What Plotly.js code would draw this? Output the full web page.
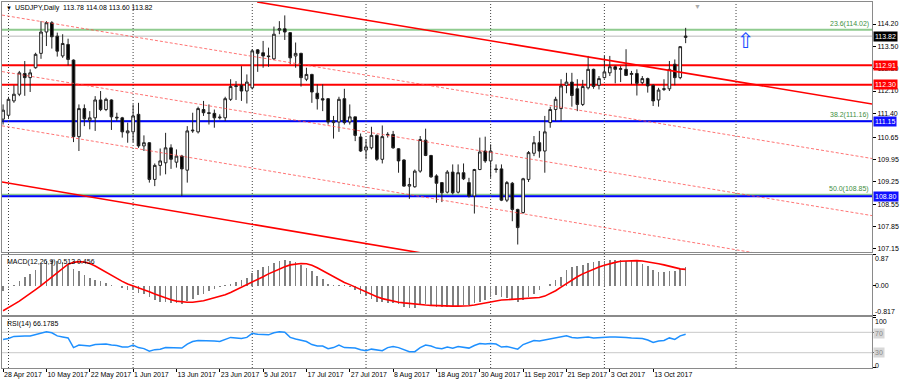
<!DOCTYPE html>
<html><head><meta charset="utf-8">
<script src="https://cdn.plot.ly/plotly-3.0.1.min.js"></script>
<style>html,body{margin:0;padding:0;background:#fff}#chart{width:900px;height:382px}</style>
</head><body><div id="chart"></div>
<script>
// ---- Daily OHLC, 28 Apr 2017 .. 23 Oct 2017 (bar index 0..126) ----
const openP = [111.22,111.34,111.79,112.00,112.65,112.52,112.83,113.28,113.95,114.24,
113.82,113.20,113.56,113.07,110.67,111.55,111.18,111.26,111.82,111.52,
111.82,111.28,111.26,110.79,110.82,111.37,110.38,110.48,109.33,109.77,
109.85,110.32,109.87,110.06,109.62,110.85,110.82,111.52,111.42,111.40,
111.26,111.26,111.84,112.24,112.28,112.10,112.20,113.39,113.30,113.20,
113.11,114.01,114.05,113.93,113.20,113.28,112.47,112.62,112.03,111.86,
111.86,111.11,111.13,111.86,111.13,111.29,110.66,110.25,110.32,110.71,
109.96,110.72,110.74,110.29,109.94,109.12,109.10,109.59,110.56,110.08,
109.44,109.23,108.93,109.56,108.93,109.54,109.23,108.81,109.64,110.22,
109.91,109.66,109.66,108.68,109.21,108.39,108.29,109.33,110.15,110.48,
110.22,111.11,111.52,111.55,112.28,112.38,112.17,111.68,112.20,112.78,
112.28,112.52,112.67,112.86,112.78,112.78,112.62,112.65,112.36,112.49,
112.28,111.82,112.15,112.17,112.94,112.52,113.78];
const highP = [111.68,111.92,112.28,112.73,113.04,112.78,113.30,114.29,114.29,114.29,
113.93,113.88,113.74,113.09,111.68,111.68,111.47,111.94,112.10,111.89,
111.84,111.42,111.29,111.11,111.68,111.73,110.71,110.50,109.83,110.30,
110.79,110.43,110.27,110.10,111.00,111.42,111.61,111.79,111.68,111.52,
111.37,111.92,112.47,112.41,112.88,112.62,113.41,113.41,113.67,113.46,
114.12,114.29,114.47,113.95,113.62,113.30,112.83,112.64,112.31,112.31,
111.88,111.32,111.92,112.17,111.68,111.29,110.77,110.58,110.98,110.74,
111.02,110.81,110.85,110.31,109.96,109.38,109.64,110.69,110.92,110.10,
109.49,109.25,109.62,109.80,109.80,109.83,109.38,109.66,110.64,110.67,
110.43,109.80,109.80,109.28,109.25,108.41,109.38,110.22,110.69,110.85,
111.32,111.61,111.92,112.47,112.67,112.67,112.47,112.45,113.20,112.80,
112.57,113.20,113.20,112.90,112.88,113.41,112.73,112.78,112.57,112.52,
112.31,112.20,112.47,113.04,113.09,113.51,114.08];
const lowP = [111.05,111.26,111.73,111.94,111.95,112.07,112.80,113.11,113.51,113.43,
113.18,113.14,112.90,110.50,110.22,111.00,110.90,110.85,111.47,111.47,
110.88,111.16,110.64,110.48,110.50,110.32,110.22,109.23,109.12,109.45,
109.49,109.66,109.70,108.81,109.23,110.79,110.77,111.32,111.05,110.95,
111.21,111.16,111.79,111.82,111.79,111.71,112.15,112.70,112.83,112.86,
113.07,113.88,113.70,112.94,112.83,112.24,112.41,111.73,111.52,111.47,
111.05,110.61,110.82,111.05,111.05,110.53,110.19,109.96,110.27,109.91,
109.83,110.64,110.29,109.54,109.10,108.72,109.07,109.54,110.06,109.38,
108.60,108.62,108.89,108.86,108.89,109.31,108.76,108.26,109.62,109.85,
109.38,109.54,108.65,108.62,108.02,107.29,108.26,109.25,110.06,110.01,
109.54,110.95,111.16,111.16,112.03,111.61,111.47,111.63,112.15,112.17,
112.15,112.49,112.57,112.34,112.38,112.57,112.31,111.96,112.31,112.05,
111.63,111.61,112.10,112.10,112.28,112.47,113.60];
const closeP = [111.50,111.84,112.00,112.67,112.52,112.67,113.25,113.95,114.24,113.80,
113.35,113.59,113.09,110.67,111.55,111.23,111.26,111.82,111.52,111.84,
111.29,111.26,110.82,110.85,111.32,110.38,110.48,109.33,109.77,109.91,
110.32,109.96,110.06,109.66,110.85,110.87,111.55,111.42,111.40,111.26,
111.28,111.86,112.24,112.26,112.10,112.38,113.36,113.28,113.20,113.18,
113.88,114.05,113.95,113.14,113.28,112.52,112.62,112.07,111.86,111.82,
111.13,111.16,111.84,111.11,111.29,110.71,110.22,110.35,110.71,109.96,
110.67,110.74,110.32,109.91,109.12,109.17,109.59,110.58,110.08,109.41,
109.21,108.91,109.56,108.91,109.54,109.35,108.81,109.64,110.19,109.91,
110.22,109.64,108.68,109.23,108.39,107.82,109.35,110.17,110.48,110.22,
110.82,111.52,111.84,112.26,112.38,111.96,111.68,112.24,112.78,112.24,
112.49,112.70,112.86,112.78,112.80,112.59,112.65,112.34,112.49,112.26,
111.79,112.13,112.17,112.78,112.52,113.49,113.82];

// ---- MACD(12,26,9): histogram (main) and signal ----
const macdMain = [-0.16,-0.06,0.01,0.13,0.24,0.33,0.45,0.60,0.70,0.72,
0.70,0.66,0.60,0.47,0.40,0.30,0.22,0.17,0.13,0.08,
0.03,-0.01,-0.07,-0.11,-0.13,-0.19,-0.23,-0.32,-0.40,-0.45,
-0.46,-0.48,-0.49,-0.50,-0.44,-0.36,-0.27,-0.22,-0.16,-0.10,
-0.05,0.01,0.06,0.11,0.16,0.22,0.36,0.45,0.51,0.55,
0.63,0.70,0.72,0.68,0.66,0.58,0.50,0.40,0.28,0.18,
0.06,0.03,0.02,0.01,-0.03,-0.12,-0.22,-0.30,-0.37,-0.45,
-0.46,-0.47,-0.49,-0.52,-0.58,-0.62,-0.63,-0.55,-0.52,-0.55,
-0.58,-0.60,-0.58,-0.57,-0.57,-0.54,-0.54,-0.49,-0.45,-0.40,
-0.31,-0.26,-0.31,-0.35,-0.40,-0.45,-0.40,-0.31,-0.22,-0.12,
-0.01,0.06,0.15,0.24,0.43,0.52,0.54,0.57,0.63,0.66,
0.68,0.69,0.72,0.72,0.72,0.70,0.69,0.69,0.61,0.54,
0.45,0.38,0.38,0.41,0.41,0.47,0.513];
const macdSignal = [-0.70,-0.62,-0.52,-0.43,-0.33,-0.22,-0.11,0.00,0.12,0.25,
0.38,0.50,0.60,0.65,0.67,0.66,0.62,0.55,0.46,0.37,
0.28,0.20,0.12,0.05,0.00,-0.05,-0.11,-0.17,-0.23,-0.29,
-0.34,-0.39,-0.43,-0.45,-0.46,-0.46,-0.45,-0.42,-0.38,-0.34,
-0.30,-0.25,-0.19,-0.12,-0.05,0.03,0.10,0.17,0.25,0.33,
0.40,0.47,0.53,0.58,0.61,0.62,0.61,0.57,0.50,0.42,
0.33,0.24,0.16,0.09,0.03,-0.04,-0.11,-0.18,-0.25,-0.31,
-0.36,-0.40,-0.43,-0.46,-0.48,-0.50,-0.52,-0.53,-0.54,-0.55,
-0.56,-0.57,-0.57,-0.57,-0.57,-0.57,-0.56,-0.54,-0.51,-0.48,
-0.45,-0.42,-0.40,-0.39,-0.38,-0.37,-0.36,-0.35,-0.35,-0.33,
-0.29,-0.22,-0.14,-0.04,0.06,0.16,0.25,0.33,0.40,0.46,
0.52,0.57,0.62,0.65,0.68,0.69,0.70,0.70,0.69,0.67,
0.64,0.61,0.58,0.54,0.50,0.47,0.456];

// ---- RSI(14) ----
const rsi = [56,58,62,63,63,63,66,69,71,69,
63,61,59,40,45,44,43,46,46,47,
45,44,41,41,45,40,38,33,36,37,
40,40,39,39,47,52,54,54,53,53,
52,56,60,59,58,60,68,66,65,65,
69,71,70,60,57,54,52,46,43,43,
38,40,45,40,39,39,36,34,37,36,
34,40,42,40,36,32,32,40,45,43,
39,38,41,39,42,41,39,44,48,47,
48,47,41,42,40,37,46,50,54,53,
55,58,59,61,63,60,59,60,61,59,
60,61,61,61,61,60,59,58,58,55,
50,53,54,59,56,63,66.18];

// ---- axis labels ----
const dateLabels = ['28 Apr 2017','10 May 2017','22 May 2017','1 Jun 2017','13 Jun 2017','23 Jun 2017','5 Jul 2017','17 Jul 2017','27 Jul 2017','8 Aug 2017','18 Aug 2017','30 Aug 2017','11 Sep 2017','21 Sep 2017','3 Oct 2017','13 Oct 2017'];
const dateLabelBars = [0,8,16,24,32,40,48,56,64,72,80,88,96,104,112,120];
const priceTicks = [114.20,113.50,112.80,112.10,111.40,110.65,109.95,109.25,108.55,107.85,107.15];
const monthSeparatorBars = [1,24,46,67,90,111,135.3];

// ---- drawn objects (bar index, price) ----
const trendUpperBars = [46.9,160.5], trendUpperPrices = [114.89,111.69];
const trendLowerBars = [-0.2,100], trendLowerPrices = [109.25,106.37];
const chanABars = [-0.2,160.6], chanAPrices = [114.48,109.98];
const chanBBars = [-0.2,160.6], chanBPrices = [112.71,108.19];
const chanCBars = [-0.2,160.6], chanCPrices = [111.01,106.40];
const fibNames = ['23.6','38.2','50.0'];
const fibPrices = [114.02,111.16,108.85];
const redLevels = [112.91,112.30];
const blueLevels = [111.15,108.80];
const bidPrice = 113.82;
const arrowMark = [137.2,113.67];
const macdTicks = [0.87,0.00,-0.817];
const rsiTicks = [100,70,30,0];

const idx = openP.map((_,i)=>i);
const FONT = 'Liberation Sans, Arial, sans-serif';

const traces = [];
const lineTr = (xs,ys,color,w,dash)=>({type:'scatter',mode:'lines',x:xs,y:ys,xaxis:'x',yaxis:'y',
  line:{color:color,width:w,dash:dash||'solid'},hoverinfo:'skip'});
traces.push(lineTr(chanABars,chanAPrices,'rgba(255,70,70,0.75)',1,'3px,2px'));
traces.push(lineTr(chanBBars,chanBPrices,'rgba(255,70,70,0.75)',1,'3px,2px'));
traces.push(lineTr(chanCBars,chanCPrices,'rgba(255,70,70,0.75)',1,'3px,2px'));
traces.push(lineTr(trendUpperBars,trendUpperPrices,'#ff0000',1.6));
traces.push(lineTr(trendLowerBars,trendLowerPrices,'#ff0000',1.6));
traces.push({type:'candlestick',x:idx,open:openP,high:highP,low:lowP,close:closeP,xaxis:'x',yaxis:'y',
  increasing:{line:{color:'#222',width:1},fillcolor:'#ffffff'},
  decreasing:{line:{color:'#222',width:1},fillcolor:'#000000'},
  whiskerwidth:0,hoverinfo:'skip'});
traces.push({type:'bar',x:idx,y:macdMain,xaxis:'x2',yaxis:'y2',width:0.3,
  marker:{color:'#808080',line:{width:0}},hoverinfo:'skip'});
traces.push({type:'scatter',mode:'lines',x:idx,y:macdSignal,xaxis:'x2',yaxis:'y2',
  line:{color:'#ff0000',width:1.6},hoverinfo:'skip'});
traces.push({type:'scatter',mode:'lines',x:idx,y:rsi,xaxis:'x3',yaxis:'y3',
  line:{color:'#1e90ff',width:1.5},hoverinfo:'skip'});

const shapes = [];
const hline = (y,color,w,yref)=>({type:'line',xref:'paper',x0:0,x1:1,yref:yref||'y',y0:y,y1:y,
  line:{color:color,width:w},layer:'below'});
fibPrices.forEach(p=>shapes.push(hline(p,'#8fcb8f',2)));
shapes.push(hline(bidPrice,'#d0d0d0',1.5));
redLevels.forEach(p=>shapes.push(hline(p,'#ff0000',2)));
blueLevels.forEach(p=>shapes.push(hline(p,'#0000ff',2)));
[70,30].forEach(v=>shapes.push(hline(v,'#c8c8c8',1,'y3')));
monthSeparatorBars.forEach(b=>shapes.push({type:'line',xref:'x',x0:b,x1:b,yref:'paper',y0:0,y1:1,
  line:{color:'#404040',width:1,dash:'1px,2px'},layer:'below'}));

const ann = [];
ann.push({xref:'paper',yref:'paper',x:0.002,y:1,xanchor:'left',yanchor:'top',yshift:-1,showarrow:false,
  text:'▼',font:{size:6,color:'#000'}});
ann.push({xref:'paper',yref:'paper',x:0.0125,y:1,xanchor:'left',yanchor:'top',yshift:0,showarrow:false,
  text:'USDJPY,Daily  113.78 114.08 113.60 113.82',font:{size:7,color:'#000'}});
ann.push({xref:'paper',yref:'paper',x:0.799,y:1,xanchor:'center',yanchor:'top',yshift:1,showarrow:false,
  text:'▼',font:{size:7,color:'#aaaaaa'}});
fibPrices.forEach((p,i)=>ann.push({xref:'paper',yref:'y',x:1,y:p,xanchor:'right',yanchor:'bottom',xshift:-1,
  showarrow:false,text:fibNames[i]+'('+p.toFixed(2)+')',font:{size:7,color:'#3f8f3f'}}));
const boxAnn = (y,txt,bg,fg,yref,yshift)=>({xref:'paper',yref:yref||'y',x:1,y:y,xanchor:'left',yanchor:'middle',
  xshift:1,yshift:yshift||0,showarrow:false,text:txt,bgcolor:bg,borderpad:1,font:{size:7,color:fg}});
ann.push(boxAnn(bidPrice,bidPrice.toFixed(2),'#000000','#ffffff'));
redLevels.forEach(p=>ann.push(boxAnn(p,p.toFixed(2),'#ff0000','#ffffff')));
blueLevels.forEach(p=>ann.push(boxAnn(p,p.toFixed(2),'#1010ff','#ffffff')));
ann.push({xref:'x',yref:'y',x:arrowMark[0],y:arrowMark[1],showarrow:false,text:'⇧',
  font:{size:21,color:'#1a4dff',family:'DejaVu Sans'}});
// indicator labels
ann.push({xref:'x domain',yref:'y2 domain',x:0.004,y:1,xanchor:'left',yanchor:'top',yshift:-1,showarrow:false,
  text:'MACD(12,26,9) 0.513 0.456',font:{size:7,color:'#000'}});
ann.push({xref:'x domain',yref:'y3 domain',x:0.004,y:1,xanchor:'left',yanchor:'top',yshift:-1,showarrow:false,
  text:'RSI(14) 66.1785',font:{size:7,color:'#000'}});
const macdShift = [-4,0,4];
macdTicks.forEach((v,i)=>ann.push(boxAnn(v,i===0?'0.87':(i===1?'0.00':'-0.817'),'rgba(0,0,0,0)','#000','y2',macdShift[i])));
const rsiShift = [-4,-1,0,2];
rsiTicks.forEach((v,i)=>ann.push(boxAnn(v,String(v),(v===70||v===30)?'#d8d8d8':'rgba(0,0,0,0)',(v===70||v===30)?'#888':'#000','y3',rsiShift[i])));

const frame = {showgrid:false,zeroline:false,showline:true,mirror:true,linecolor:'#8a8a8a',linewidth:1,fixedrange:true};
const layout = {
  width:900,height:382,margin:{l:2,r:28,t:2,b:14},
  paper_bgcolor:'#ffffff',plot_bgcolor:'#ffffff',showlegend:false,
  font:{family:FONT,size:7,color:'#000'},
  xaxis:Object.assign({},frame,{anchor:'y',range:[-0.2,160.4],ticks:'',showticklabels:false,rangeslider:{visible:false}}),
  xaxis2:Object.assign({},frame,{anchor:'y2',matches:'x',ticks:'',showticklabels:false}),
  xaxis3:Object.assign({},frame,{anchor:'y3',matches:'x',tickmode:'array',tickvals:dateLabelBars,ticktext:dateLabels,
    ticks:'outside',ticklen:3,tickcolor:'#000',tickangle:0,ticklabelposition:'outside right',
    tickfont:{size:7,color:'#000'}}),
  yaxis:Object.assign({},frame,{domain:[0.3156,1],range:[107.04,114.89],side:'right',anchor:'x',tickmode:'array',
    tickvals:priceTicks,ticktext:priceTicks.map(v=>v.toFixed(2)),ticks:'outside',ticklen:3,tickcolor:'#000',
    tickfont:{size:7,color:'#000'}}),
  yaxis2:Object.assign({},frame,{domain:[0.1448,0.3101],range:[-0.817,0.87],side:'right',anchor:'x2',
    tickmode:'array',tickvals:macdTicks,showticklabels:false,ticks:'outside',ticklen:3,tickcolor:'#000'}),
  yaxis3:Object.assign({},frame,{domain:[0,0.1393],range:[0,100],side:'right',anchor:'x3',
    tickmode:'array',tickvals:rsiTicks,showticklabels:false,ticks:'outside',ticklen:3,tickcolor:'#000'}),
  shapes:shapes,annotations:ann,bargap:0
};
Plotly.newPlot('chart',traces,layout,{staticPlot:true,displayModeBar:false});
</script></body></html>
